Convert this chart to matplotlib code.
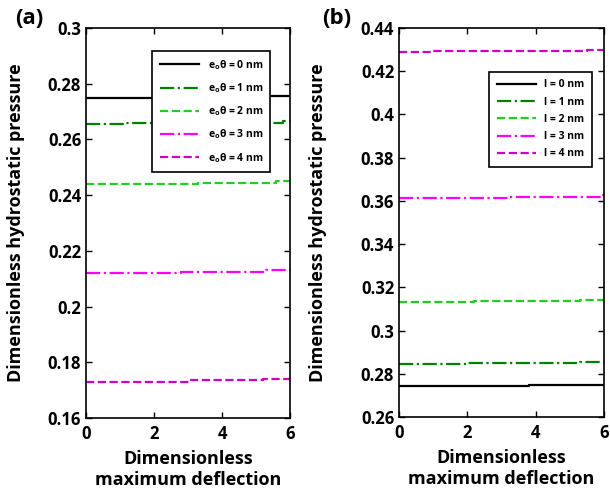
import matplotlib
matplotlib.use("Agg")
import matplotlib.pyplot as plt

plt.rcParams['font.family'] = ['Open Sans', 'DejaVu Sans']
plt.rcParams['font.weight'] = 'bold'
plt.rcParams['mathtext.fontset'] = 'custom'
plt.rcParams['mathtext.rm'] = 'Open Sans:bold'
plt.rcParams['mathtext.it'] = 'Open Sans:bold'

# deflection breakpoints for each curve, pressure held between them
x_a = [
    [0, 3.3, 3.3, 6],
    [0, 1.1, 1.1, 5.8, 5.8, 6],
    [0, 3.3, 3.3, 5.6, 5.6, 6],
    [0, 2.8, 2.8, 5.3, 5.3, 6],
    [0, 3.1, 3.1, 5.2, 5.2, 6],
]
p_a = [
    [0.2750, 0.2750, 0.2755, 0.2755],
    [0.2655, 0.2655, 0.2660, 0.2660, 0.2665, 0.2665],
    [0.2440, 0.2440, 0.2445, 0.2445, 0.2450, 0.2450],
    [0.2120, 0.2120, 0.2125, 0.2125, 0.2130, 0.2130],
    [0.1730, 0.1730, 0.1735, 0.1735, 0.1740, 0.1740],
]
x_b = [
    [0, 3.8, 3.8, 6],
    [0, 2.0, 2.0, 5.3, 5.3, 6],
    [0, 2.2, 2.2, 5.3, 5.3, 6],
    [0, 3.2, 3.2, 5.9, 5.9, 6],
    [0, 1.0, 1.0, 5.5, 5.5, 6],
]
p_b = [
    [0.2745, 0.2745, 0.2750, 0.2750],
    [0.2845, 0.2845, 0.2850, 0.2850, 0.2855, 0.2855],
    [0.3130, 0.3130, 0.3135, 0.3135, 0.3140, 0.3140],
    [0.3615, 0.3615, 0.3620, 0.3620, 0.3625, 0.3625],
    [0.4290, 0.4290, 0.4295, 0.4295, 0.4300, 0.4300],
]
labels_a = [r"e$_{\mathrm{o}}$θ = %d nm" % i for i in range(5)]
labels_b = ["l = %d nm" % i for i in range(5)]

colors = ['black', '#008000', '#22cc22', '#ff00ff', '#cc00cc']
styles = ['-', '-.', '--', '-.', '--']
xticks = [0, 2, 4, 6]
yticks_a = [0.16, 0.18, 0.2, 0.22, 0.24, 0.26, 0.28, 0.3]
ytick_labels_a = ['0.16', '0.18', '0.2', '0.22', '0.24', '0.26', '0.28', '0.3']
yticks_b = [0.26, 0.28, 0.3, 0.32, 0.34, 0.36, 0.38, 0.4, 0.42, 0.44]
ytick_labels_b = ['0.26', '0.28', '0.3', '0.32', '0.34', '0.36', '0.38', '0.4', '0.42', '0.44']

fig = plt.figure(figsize=(6.1, 4.97), dpi=100)
ax1 = fig.add_axes([86 / 610, 1 - 418 / 497, 204 / 610, 390 / 497])
ax2 = fig.add_axes([399 / 610, 1 - 417 / 497, 205 / 610, 389 / 497])


def draw_panel(ax, xs, ps, labels, yticks, ytick_labels, legend_box, spacing):
    for i in range(len(xs)):
        ax.plot(xs[i], ps[i], color=colors[i], linestyle=styles[i], linewidth=1.6, label=labels[i])
    ax.set_xlim(0, 6)
    ax.set_ylim(yticks[0], yticks[-1])
    ax.set_xticks(xticks)
    ax.set_xticklabels([str(t) for t in xticks])
    ax.set_yticks(yticks)
    ax.set_yticklabels(ytick_labels)
    ax.tick_params(direction='in', top=True, right=True, labelsize=12, length=4, width=1)
    ax.tick_params(axis='x', pad=5)
    for s in ax.spines.values():
        s.set_linewidth(1.2)
    ax.set_xlabel("Dimensionless\nmaximum deflection", fontsize=13, fontweight='bold',
                  linespacing=1.2, labelpad=5)
    ax.set_ylabel("Dimensionless hydrostatic pressure", fontsize=13, fontweight='bold')
    leg = ax.legend(loc='upper left', bbox_to_anchor=legend_box, fontsize=7.5, frameon=True,
                    fancybox=False, edgecolor='black', framealpha=1, handlelength=3.8,
                    labelspacing=spacing, borderpad=0.7)
    leg.get_frame().set_linewidth(1.2)


draw_panel(ax1, x_a, p_a, labels_a, yticks_a, ytick_labels_a, (0.30, 0.955), 0.9)
draw_panel(ax2, x_b, p_b, labels_b, yticks_b, ytick_labels_b, (0.415, 0.90), 0.6)
ax1.yaxis.set_label_coords(-0.30, 0.5)
ax2.yaxis.set_label_coords(-0.35, 0.5)

fig.text(15 / 610, 1 - 18 / 497, "(a)", fontsize=16, fontweight='bold', va='center')
fig.text(322 / 610, 1 - 18 / 497, "(b)", fontsize=16, fontweight='bold', va='center')

fig.savefig("out.png", dpi=100)
